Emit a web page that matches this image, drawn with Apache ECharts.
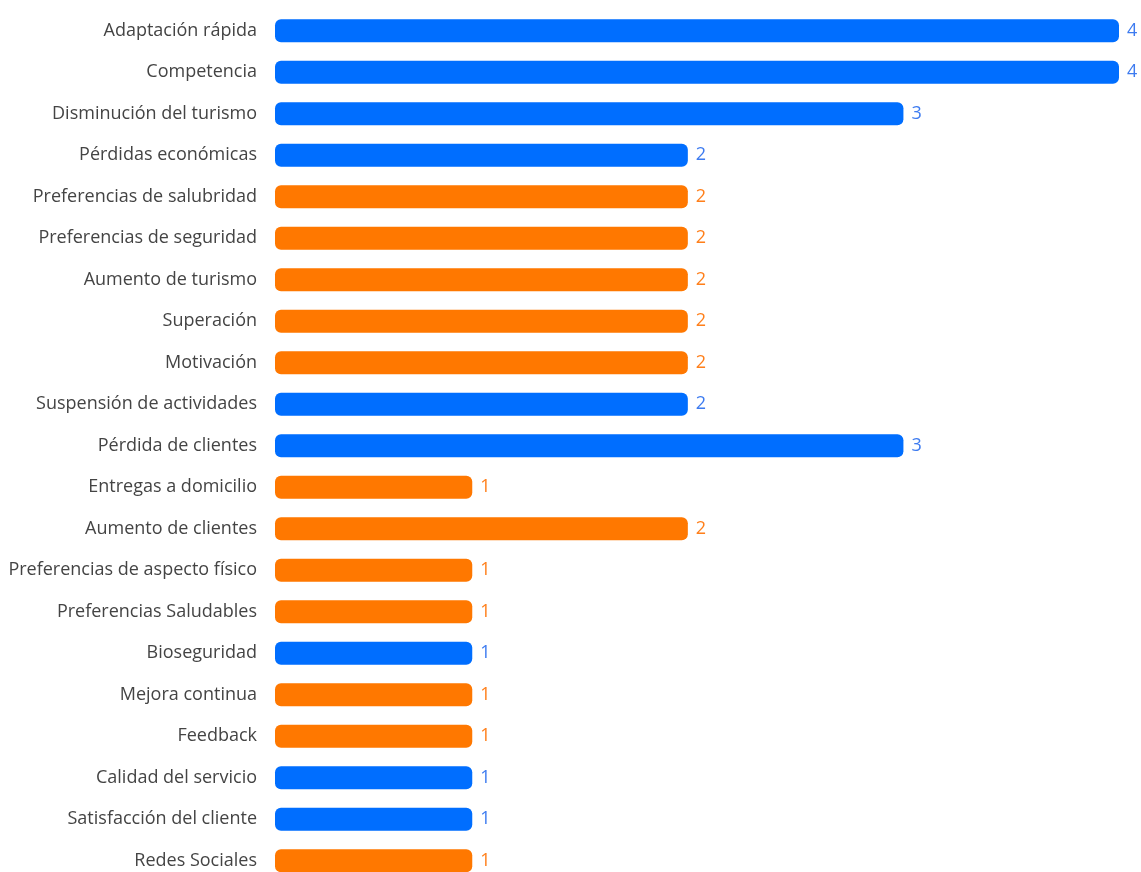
<!DOCTYPE html>
<html><head><meta charset="utf-8">
<script src="https://cdn.jsdelivr.net/npm/echarts@6/dist/echarts.min.js"></script>
<style>html,body{margin:0;padding:0;background:#fff;overflow:hidden}#c{width:1141px;height:900px}</style>
</head><body><div id="c"></div>
<script>
const categories = ["Adaptación rápida","Competencia","Disminución del turismo","Pérdidas económicas","Preferencias de salubridad","Preferencias de seguridad","Aumento de turismo","Superación","Motivación","Suspensión de actividades","Pérdida de clientes","Entregas a domicilio","Aumento de clientes","Preferencias de aspecto físico","Preferencias Saludables","Bioseguridad","Mejora continua","Feedback","Calidad del servicio","Satisfacción del cliente","Redes Sociales"];
const values = [4,4,3,2,2,2,2,2,2,2,3,1,2,1,1,1,1,1,1,1,1];
const groups = ["b","b","b","b","o","o","o","o","o","b","b","o","o","o","o","b","o","o","b","b","o"];
const barColors = {b:"#006EFF", o:"#FF7800"};
const labelColors = {b:"#3D7BF0", o:"#FF7F1A"};

const chart = echarts.init(document.getElementById('c'));
chart.setOption({
  animation:false,
  grid:{left:275, right:22, top:10, height:871.5},
  xAxis:{type:'value', min:0.085, max:4, show:false},
  yAxis:{type:'category', data:categories, inverse:true,
    axisLine:{show:false}, axisTick:{show:false},
    axisLabel:{margin:18, color:'#444', fontSize:18, fontFamily:'Open Sans'}},
  series:[{type:'bar', barWidth:23,
    data: values.map((v,i)=>({value:v,
      itemStyle:{color:barColors[groups[i]], borderRadius:6},
      label:{color:labelColors[groups[i]]}})),
    label:{show:true, position:'right', distance:8, fontSize:18, fontFamily:'Open Sans'}
  }]
});
</script></body></html>
